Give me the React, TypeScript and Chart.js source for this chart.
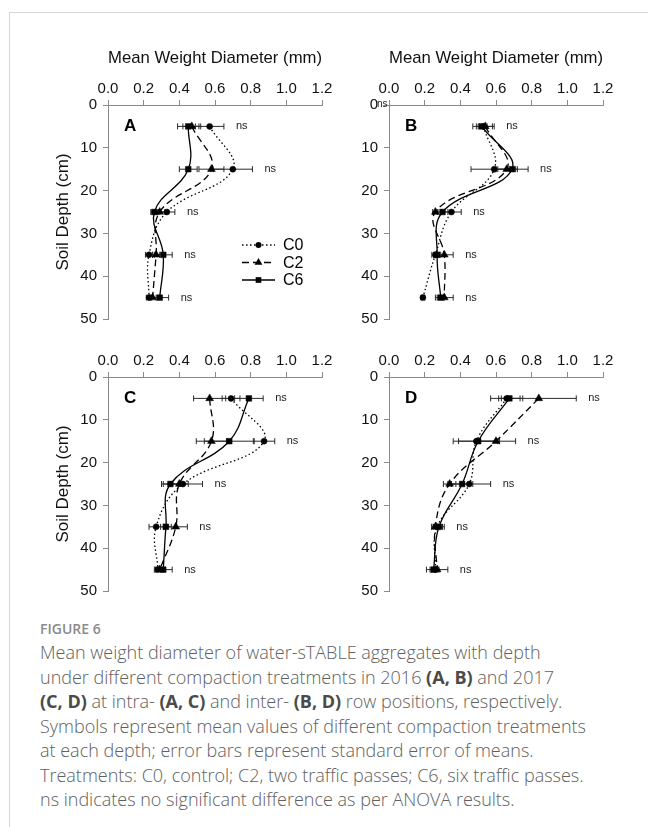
import React, { useEffect, useRef } from 'react';
import { Chart, registerables } from 'chart.js';

Chart.register(...registerables);

// Sampling depths (cm) and treatment names
const depths = [5, 15, 25, 35, 45];
const treatments = ['C0', 'C2', 'C6'];
const xTickStep = 0.2;
const depthTickStep = 10;

// A: 2016, intra-row — mean weight diameter (mm) and standard errors
const mwdA_C0 = [0.57, 0.70, 0.33, 0.23, 0.23];
const seA_C0 = [0.08, 0.11, 0.045, 0.02, 0.015];
const mwdA_C2 = [0.47, 0.58, 0.29, 0.27, 0.25];
const seA_C2 = [0.05, 0.07, 0.03, 0.02, 0.02];
const mwdA_C6 = [0.45, 0.45, 0.26, 0.31, 0.29];
const seA_C6 = [0.06, 0.05, 0.02, 0.05, 0.05];

// B: 2016, inter-row
const mwdB_C0 = [0.53, 0.59, 0.35, 0.26, 0.19];
const seB_C0 = [0.06, 0.13, 0.055, 0.02, 0.01];
const mwdB_C2 = [0.54, 0.66, 0.26, 0.31, 0.31];
const seB_C2 = [0.04, 0.05, 0.015, 0.05, 0.05];
const mwdB_C6 = [0.52, 0.69, 0.30, 0.27, 0.29];
const seB_C6 = [0.03, 0.09, 0.03, 0.02, 0.02];

// C: 2017, intra-row
const mwdC_C0 = [0.69, 0.875, 0.42, 0.27, 0.28];
const seC_C0 = [0.05, 0.06, 0.11, 0.04, 0.015];
const mwdC_C2 = [0.57, 0.58, 0.40, 0.38, 0.29];
const seC_C2 = [0.09, 0.085, 0.05, 0.065, 0.02];
const mwdC_C6 = [0.79, 0.68, 0.35, 0.325, 0.31];
const seC_C6 = [0.08, 0.14, 0.05, 0.03, 0.05];

// D: 2017, inter-row
const mwdD_C0 = [0.66, 0.49, 0.45, 0.27, 0.26];
const seD_C0 = [0.09, 0.13, 0.12, 0.03, 0.02];
const mwdD_C2 = [0.84, 0.60, 0.34, 0.26, 0.27];
const seD_C2 = [0.21, 0.11, 0.035, 0.02, 0.06];
const mwdD_C6 = [0.675, 0.50, 0.41, 0.28, 0.25];
const seD_C6 = [0.06, 0.11, 0.06, 0.03, 0.02];

const FONT = '"Liberation Sans", Arial, Helvetica, sans-serif';
const AXIS_GREY = '#8a8a8a';
const TEXT = '#111';

// Line and marker style per treatment (C0 dotted/circle, C2 dashed/triangle, C6 solid/square)
const seriesStyle = [
  { dash: [1.5, 2.5], point: 'circle', radius: 3 },
  { dash: [7, 4], point: 'triangle', radius: 4.5 },
  { dash: [] as number[], point: 'rect', radius: 4 },
];

function drawMarker(ctx: CanvasRenderingContext2D, kind: string, x: number, y: number, r: number) {
  ctx.beginPath();
  if (kind === 'circle') {
    ctx.arc(x, y, r, 0, Math.PI * 2);
  } else if (kind === 'triangle') {
    for (let i = 0; i < 3; i++) {
      const a = (i * 2 * Math.PI) / 3;
      const px = x + Math.sin(a) * r;
      const py = y - Math.cos(a) * r;
      if (i === 0) ctx.moveTo(px, py);
      else ctx.lineTo(px, py);
    }
    ctx.closePath();
  } else {
    const s = Math.SQRT1_2 * r;
    ctx.rect(x - s, y - s, 2 * s, 2 * s);
  }
  ctx.fill();
}

function makeDecor(letter: string, errors: number[][], showLegend: boolean, originNs: boolean) {
  return {
    id: 'decor' + letter,
    beforeDatasetsDraw(chart: any) {
      const { ctx } = chart;
      const xs = chart.scales.x;
      const ys = chart.scales.y;
      ctx.save();
      ctx.strokeStyle = '#2a2a2a';
      ctx.lineWidth = 1;
      ctx.setLineDash([]);
      chart.data.datasets.forEach((ds: any, k: number) => {
        ds.data.forEach((p: any, i: number) => {
          const e = errors[k][i];
          const x0 = xs.getPixelForValue(p.x - e);
          const x1 = xs.getPixelForValue(p.x + e);
          const y = ys.getPixelForValue(p.y);
          ctx.beginPath();
          ctx.moveTo(x0, y);
          ctx.lineTo(x1, y);
          ctx.moveTo(x0, y - 3);
          ctx.lineTo(x0, y + 3);
          ctx.moveTo(x1, y - 3);
          ctx.lineTo(x1, y + 3);
          ctx.stroke();
        });
      });
      ctx.restore();
    },
    afterDatasetsDraw(chart: any) {
      const { ctx, chartArea } = chart;
      const xs = chart.scales.x;
      const ys = chart.scales.y;
      ctx.save();
      ctx.setLineDash([]);

      // "ns" beside the widest error bar at each depth
      ctx.fillStyle = '#222';
      ctx.font = `11px ${FONT}`;
      ctx.textAlign = 'left';
      ctx.textBaseline = 'middle';
      depths.forEach((d, i) => {
        let maxX = -Infinity;
        chart.data.datasets.forEach((ds: any, k: number) => {
          maxX = Math.max(maxX, ds.data[i].x + errors[k][i]);
        });
        ctx.fillText('ns', xs.getPixelForValue(maxX) + 12, ys.getPixelForValue(d));
      });
      if (originNs) {
        ctx.font = `10px ${FONT}`;
        ctx.fillText('ns', xs.getPixelForValue(0) - 12, ys.getPixelForValue(0) - 1);
      }

      // Panel letter
      ctx.fillStyle = '#000';
      ctx.font = `bold 17px ${FONT}`;
      ctx.fillText(letter, chartArea.left + 16, chartArea.top + 21);

      // Treatment legend
      if (showLegend) {
        const lx0 = chartArea.left + 134;
        const lx1 = chartArea.left + 167;
        const mx = chartArea.left + 150.5;
        treatments.forEach((name, k) => {
          const st = seriesStyle[k];
          const y = chartArea.top + 140 + k * 17.5;
          ctx.strokeStyle = '#000';
          ctx.lineWidth = 1.3;
          ctx.setLineDash(st.dash);
          ctx.beginPath();
          ctx.moveTo(lx0, y);
          ctx.lineTo(lx1, y);
          ctx.stroke();
          ctx.setLineDash([]);
          ctx.fillStyle = '#000';
          drawMarker(ctx, st.point, mx, y, st.radius);
          ctx.font = `16px ${FONT}`;
          ctx.fillText(name, chartArea.left + 175, y + 1);
        });
      }
      ctx.restore();
    },
  };
}

type PanelProps = {
  left: number;
  top: number;
  letter: string;
  series: number[][];
  errors: number[][];
  showXTitle: boolean;
  showYTitle: boolean;
  showLegend?: boolean;
  originNs?: boolean;
};

function Panel({ left, top, letter, series, errors, showXTitle, showYTitle, showLegend = false, originNs = false }: PanelProps) {
  const ref = useRef<HTMLCanvasElement | null>(null);

  useEffect(() => {
    if (!ref.current) return;
    const chart = new Chart(ref.current, {
      type: 'line',
      data: {
        datasets: series.map((vals, k) => ({
          label: treatments[k],
          data: vals.map((v, i) => ({ x: v, y: depths[i] })),
          borderColor: '#000',
          backgroundColor: '#000',
          borderWidth: 1.3,
          borderDash: seriesStyle[k].dash,
          tension: 0.4,
          fill: false,
          pointStyle: seriesStyle[k].point as any,
          pointRadius: seriesStyle[k].radius,
          pointBorderWidth: 0.5,
          pointBorderColor: '#000',
          pointBackgroundColor: '#000',
        })),
      },
      options: {
        responsive: false,
        animation: false,
        devicePixelRatio: 1,
        events: [],
        layout: { padding: { left: 0, top: 0, right: 18, bottom: 11 } },
        plugins: {
          legend: { display: false },
          tooltip: { enabled: false },
        },
        scales: {
          x: {
            type: 'linear',
            position: 'top',
            min: 0,
            max: 1.2,
            ticks: {
              stepSize: xTickStep,
              autoSkip: false,
              maxRotation: 0,
              padding: 2,
              color: TEXT,
              font: { family: FONT, size: 15 },
              callback: (v: any) => Number(v).toFixed(1),
            },
            grid: { drawOnChartArea: false, drawTicks: true, tickLength: 5, color: AXIS_GREY, lineWidth: 1 },
            border: { display: true, color: AXIS_GREY, width: 1 },
            title: {
              display: showXTitle,
              text: 'Mean Weight Diameter (mm)',
              color: TEXT,
              font: { family: FONT, size: 17 },
              padding: { top: 18, bottom: 0 },
            },
            afterFit: (s: any) => {
              s.height = 75;
              s.paddingLeft = 0;
              s.paddingRight = 0;
            },
          },
          y: {
            type: 'linear',
            reverse: true,
            min: 0,
            max: 50,
            ticks: {
              stepSize: depthTickStep,
              padding: 6,
              color: TEXT,
              font: { family: FONT, size: 15 },
            },
            grid: { drawOnChartArea: false, drawTicks: true, tickLength: 5, color: AXIS_GREY, lineWidth: 1 },
            border: { display: true, color: AXIS_GREY, width: 1 },
            title: {
              display: showYTitle,
              text: 'Soil Depth (cm)',
              color: TEXT,
              font: { family: FONT, size: 17 },
              padding: { top: 33, bottom: 0 },
            },
            afterFit: (s: any) => {
              s.width = 88;
              s.paddingTop = 0;
              s.paddingBottom = 0;
            },
          },
        },
      } as any,
      plugins: [makeDecor(letter, errors, showLegend, originNs)],
    });
    return () => chart.destroy();
  }, []);

  return (
    <canvas
      ref={ref}
      width={320}
      height={300}
      style={{ position: 'absolute', left, top, width: 320, height: 300 }}
    />
  );
}

const bold = { fontWeight: 700, color: '#4a4a4a' } as const;

export default function App() {
  return (
    <div style={{ position: 'absolute', left: 0, top: 0, width: 648, height: 827, overflow: 'hidden', background: '#fff' }}>
      <div
        style={{
          position: 'absolute',
          left: 9,
          top: 12,
          width: 800,
          height: 1000,
          border: '1px solid #d6d6d6',
          boxSizing: 'border-box',
        }}
      />
      <Panel
        left={20}
        top={30}
        letter="A"
        series={[mwdA_C0, mwdA_C2, mwdA_C6]}
        errors={[seA_C0, seA_C2, seA_C6]}
        showXTitle
        showYTitle
        showLegend
      />
      <Panel
        left={301}
        top={30}
        letter="B"
        series={[mwdB_C0, mwdB_C2, mwdB_C6]}
        errors={[seB_C0, seB_C2, seB_C6]}
        showXTitle
        showYTitle={false}
        originNs
      />
      <Panel
        left={20}
        top={302}
        letter="C"
        series={[mwdC_C0, mwdC_C2, mwdC_C6]}
        errors={[seC_C0, seC_C2, seC_C6]}
        showXTitle={false}
        showYTitle
      />
      <Panel
        left={301}
        top={302}
        letter="D"
        series={[mwdD_C0, mwdD_C2, mwdD_C6]}
        errors={[seD_C0, seD_C2, seD_C6]}
        showXTitle={false}
        showYTitle={false}
      />
      <div
        style={{
          position: 'absolute',
          left: 40,
          top: 618,
          fontFamily: '"Open Sans", "Noto Sans", sans-serif',
          color: '#606060',
          whiteSpace: 'nowrap',
        }}
      >
        <div style={{ fontSize: 14, fontWeight: 600, color: '#8a8a8a', lineHeight: '22px' }}>FIGURE 6</div>
        <div style={{ fontSize: 18, fontWeight: 300, lineHeight: '24.5px' }}>
          Mean weight diameter of water-sTABLE aggregates with depth
          <br />
          under different compaction treatments in 2016 <span style={bold}>(A, B)</span> and 2017
          <br />
          <span style={bold}>(C, D)</span> at intra- <span style={bold}>(A, C)</span> and inter-{' '}
          <span style={bold}>(B, D)</span> row positions, respectively.
          <br />
          Symbols represent mean values of different compaction treatments
          <br />
          at each depth; error bars represent standard error of means.
          <br />
          Treatments: C0, control; C2, two traffic passes; C6, six traffic passes.
          <br />
          ns indicates no significant difference as per ANOVA results.
        </div>
      </div>
    </div>
  );
}
